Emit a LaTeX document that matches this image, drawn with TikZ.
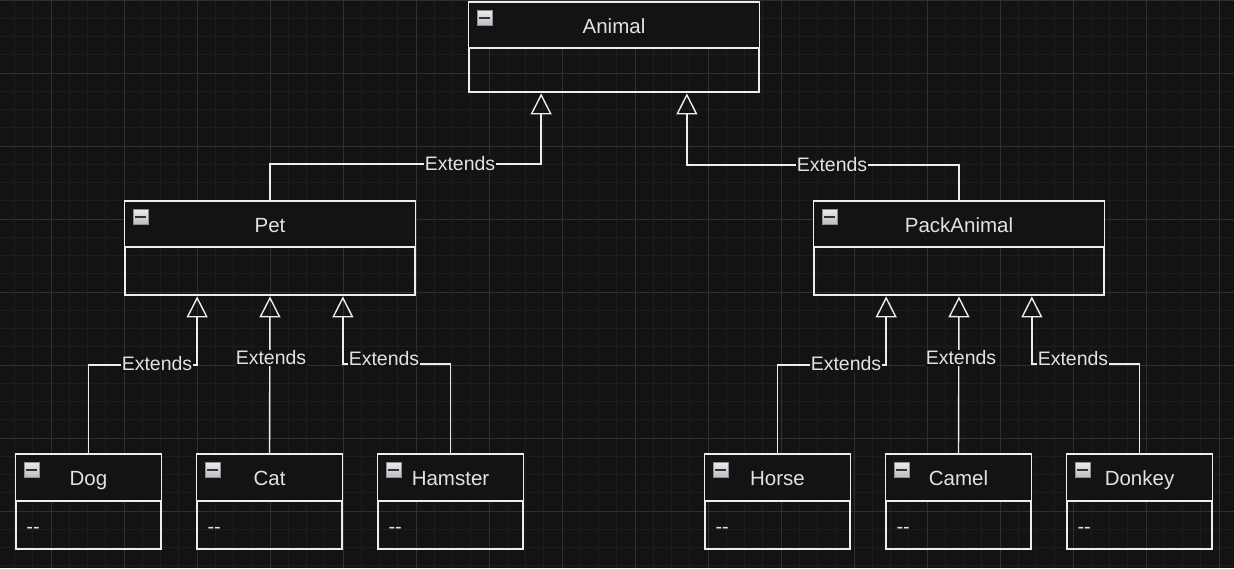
\documentclass[tikz,border=0pt]{standalone}
\usepackage{fontspec}
\setmainfont{Liberation Sans}
\usetikzlibrary{arrows.meta,calc}
\definecolor{bg}{HTML}{131313}
\definecolor{gminor}{HTML}{1D1D1D}
\definecolor{gmajor}{HTML}{303030}
\definecolor{ln}{HTML}{EDEDED}
\definecolor{txt}{HTML}{E2E2E2}
\definecolor{icb}{HTML}{8A909C}
\definecolor{ict}{HTML}{ECECEC}
\definecolor{icm}{HTML}{BDBDC2}
\tikzset{
  cls/.style={draw=ln, line width=1.4pt, rectangle, inner sep=0pt},
  ttl/.style={text=txt, font=\fontsize{20.5}{22}\selectfont, anchor=base, inner sep=0pt},
  bodytxt/.style={text=txt, font=\fontsize{20}{22}\selectfont, anchor=base west, inner sep=0pt},
  ext/.style={draw=ln, line width=1.4pt, -{Triangle[open, length=21pt, width=21pt, line width=1.4pt]}},
  lbl/.style={fill=bg, text=txt, inner sep=1pt, font=\fontsize{19.5}{21}\selectfont},
  icon/.style={draw=icb, line width=1pt, top color=ict, bottom color=icm, minimum size=15pt, inner sep=0pt},
}
% \umlcls{name}{center x}{top y}{width}{height}{header height}{title}{body}
\newcommand{\umlcls}[8]{%
  \node[cls, minimum width=#4pt, minimum height=#5pt, anchor=north] (#1) at (#2,#3) {};
  \fill[bg] (#1.north west) rectangle ($(#1.north east)+(0,#6)$);
  \draw[ln, line width=1.4pt] (#1.north west) rectangle (#1.south east);
  \draw[ln, line width=1.4pt] ($(#1.north west)+(0,#6)$) -- ($(#1.north east)+(0,#6)$);
  \node[icon, anchor=north west] (#1-icon) at ($(#1.north west)+(8.5,7.5)$) {};
  \fill[black!80] ($(#1-icon.center)+(-5.5,-1)$) rectangle ($(#1-icon.center)+(5.5,1)$);
  \node[ttl] (#1-title) at ($(#1.north)+(0,#6/2+8)$) {#7};
  \node[bodytxt] (#1-body) at ($(#1.north west)+(11,#6+32)$) {#8};
}
\begin{document}
\begin{tikzpicture}[x=1pt, y=-1pt]
\fill[bg] (0,0) rectangle (1234,568);
\useasboundingbox (0,0) rectangle (1234,568);
\begin{scope}
\clip (0,0) rectangle (1234,568);
\foreach \k in {-2,...,66} {\draw[gminor, line width=0.8pt] ({51+18.25*\k},0) -- ({51+18.25*\k},568);}
\foreach \k in {0,...,31} {\draw[gminor, line width=0.8pt] (0,{18.25*\k}) -- (1234,{18.25*\k});}
\foreach \k in {-1,...,16} {\draw[gmajor, line width=1pt] ({51+73*\k},0) -- ({51+73*\k},568);}
\foreach \k in {0,...,7} {\draw[gmajor, line width=1pt] (0,{0.6+73*\k}) -- (1234,{0.6+73*\k});}
\end{scope}

\umlcls{animal}{614}{2}{290}{89}{46}{Animal}{}
\umlcls{pet}{270}{201}{290}{93}{46}{Pet}{}
\umlcls{pack}{959}{201}{290}{93}{46}{PackAnimal}{}
\umlcls{dog}{88.5}{454}{145}{94}{47}{Dog}{{-}{-}}
\umlcls{cat}{269.5}{454}{145}{94}{47}{Cat}{{-}{-}}
\umlcls{ham}{450.5}{454}{145}{94}{47}{Hamster}{{-}{-}}
\umlcls{horse}{777.5}{454}{145}{94}{47}{Horse}{{-}{-}}
\umlcls{camel}{958.5}{454}{145}{94}{47}{Camel}{{-}{-}}
\umlcls{donkey}{1139.5}{454}{145}{94}{47}{Donkey}{{-}{-}}

\coordinate (animal-a1) at ($(animal.south west)!0.25!(animal.south east)+(0,1)$);
\coordinate (animal-a2) at ($(animal.south west)!0.75!(animal.south east)+(0,1)$);
\coordinate (pet-a1) at ($(pet.south west)!0.25!(pet.south east)+(0,1)$);
\coordinate (pet-a2) at ($(pet.south west)!0.5!(pet.south east)+(0,1)$);
\coordinate (pet-a3) at ($(pet.south west)!0.75!(pet.south east)+(0,1)$);
\coordinate (pack-a1) at ($(pack.south west)!0.25!(pack.south east)+(0,1)$);
\coordinate (pack-a2) at ($(pack.south west)!0.5!(pack.south east)+(0,1)$);
\coordinate (pack-a3) at ($(pack.south west)!0.75!(pack.south east)+(0,1)$);

\draw[ext] (pet.north) -- (pet.north |- 0,164) -| (animal-a1);
\draw[ext] (pack.north) -- (pack.north |- 0,165) -| (animal-a2);
\draw[ext] (dog.north) -- (dog.north |- 0,365) -| (pet-a1);
\draw[ext] (cat.north) -- (pet-a2);
\draw[ext] (ham.north) -- (ham.north |- 0,364) -| (pet-a3);
\draw[ext] (horse.north) -- (horse.north |- 0,365) -| (pack-a1);
\draw[ext] (camel.north) -- (pack-a2);
\draw[ext] (donkey.north) -- (donkey.north |- 0,364) -| (pack-a3);

\node[lbl] (l1) at (460,164) {Extends};
\node[lbl] (l2) at (832,165) {Extends};
\node[lbl] (l3) at (157,364) {Extends};
\node[lbl] (l4) at (271,358) {Extends};
\node[lbl] (l5) at (384,359) {Extends};
\node[lbl] (l6) at (846,364) {Extends};
\node[lbl] (l7) at (961,358) {Extends};
\node[lbl] (l8) at (1073,359) {Extends};
\end{tikzpicture}
\end{document}
